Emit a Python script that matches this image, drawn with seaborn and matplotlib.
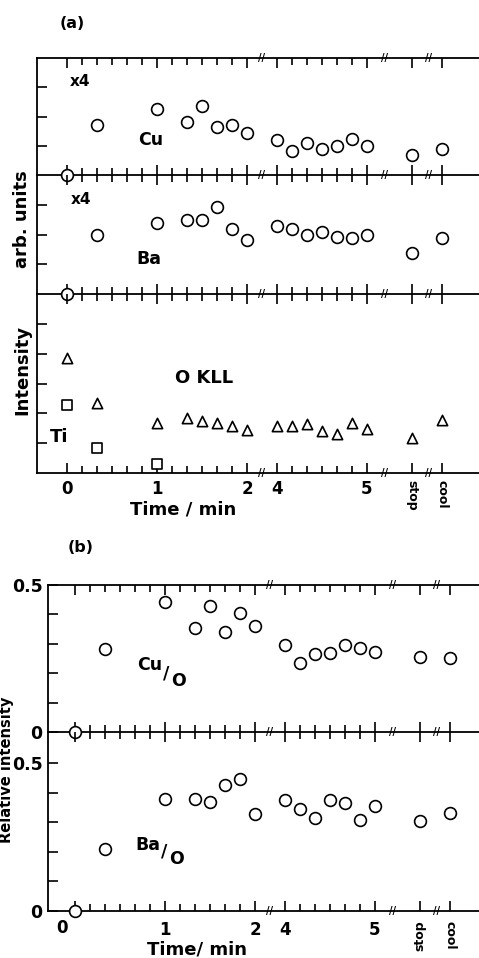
import numpy as np
import matplotlib
matplotlib.use("Agg")
import matplotlib.pyplot as plt
import matplotlib.transforms as mtransforms
import seaborn as sns

# ---------------- data ----------------
# sputtering time in minutes; "stop" and "cool" sit at nominal times 5.5 and 5.83
times = [0, 1/3, 1, 4/3, 3/2, 5/3, 11/6, 2, 4, 25/6, 13/3, 9/2, 14/3, 29/6, 5, 5.5, 5.83]
cu_x4 = [0, 1.70, 2.24, 1.82, 2.35, 1.63, 1.70, 1.42, 1.19, 0.82, 1.11, 0.89, 1.00, 1.23, 0.99, 0.70, 0.89]
ba_x4 = [0, 1.98, 2.39, 2.48, 2.50, 2.91, 2.20, 1.81, 2.28, 2.20, 2.00, 2.09, 1.91, 1.89, 2.00, 1.39, 1.89]
o_kll = [3.86, 2.33, 1.68, 1.85, 1.74, 1.69, 1.58, 1.43, 1.57, 1.57, 1.64, 1.41, 1.30, 1.66, 1.46, 1.18, 1.77]
ti_times = [0, 1/3, 1]
ti = [2.27, 0.84, 0.31]
cu_over_o = [0, 0.282, 0.441, 0.353, 0.429, 0.341, 0.404, 0.361, 0.296, 0.236, 0.265, 0.268, 0.296, 0.285, 0.273, 0.256, 0.253]
ba_over_o = [0, 0.211, 0.377, 0.378, 0.367, 0.427, 0.445, 0.329, 0.376, 0.346, 0.315, 0.376, 0.366, 0.306, 0.354, 0.303, 0.331]

tick_times = [0, 1, 2, 4, 5, 5.5, 5.83]
tick_labels_a = ["0", "1", "2", "4", "5", "stop", "cool"]
tick_labels_b = ["", "1", "2", "4", "5", "stop", "cool"]
minor_times = [i / 6 for i in range(13)] + [4 + i / 6 for i in range(7)]
break_times = [3.0, 5.2, 5.68]

# ---------------- style ----------------
sns.set_style("ticks")
plt.rcParams["font.family"] = ["DejaVu Sans"]
plt.rcParams["font.weight"] = "bold"
for key in ("text.color", "axes.labelcolor", "xtick.color", "ytick.color", "axes.edgecolor"):
    plt.rcParams[key] = "black"

W, H = 479, 958
fig = plt.figure(figsize=(W / 100, H / 100), dpi=100)

# broken time axis: 2 -> 4 min compressed
BRK_T = [-2, 2, 4, 8]
BRK_P = [-2, 2, 2 + 1 / 3, 6 + 1 / 3]


def fwd(t):
    return np.interp(np.asarray(t, float), BRK_T, BRK_P)


def inv(p):
    return np.interp(np.asarray(p, float), BRK_P, BRK_T)


def add_ax(x0, y0, y1):
    return fig.add_axes([x0 / W, 1 - y1 / H, (W - x0) / W, (y1 - y0) / H])


def setup(ax, xlim, ylim, yticks):
    ax.set_xscale("function", functions=(fwd, inv))
    ax.set_xlim(*xlim)
    ax.set_ylim(*ylim)
    ax.set_xticks(tick_times)
    ax.set_xticks(minor_times, minor=True)
    ax.tick_params(axis="x", which="both", direction="in", top=True, bottom=True,
                   labelbottom=False, width=1.2, color="black")
    ax.tick_params(axis="x", which="major", length=7)
    ax.tick_params(axis="x", which="minor", length=5)
    ax.set_yticks(yticks)
    ax.tick_params(axis="y", direction="in", left=True, right=False, length=7,
                   width=1.2, labelleft=False, color="black")
    ax.spines["right"].set_visible(False)
    for s in ax.spines.values():
        s.set_linewidth(1.3)
        s.set_color("black")
    ax.set_facecolor("none")


def breaks(ax, sides):
    tr = mtransforms.blended_transform_factory(ax.transData, ax.transAxes)
    for side in sides:
        yy = 1 if side == "top" else 0
        for t in break_times:
            ax.text(t, yy, "//", transform=tr, ha="center", va="center", fontsize=7,
                    fontweight="bold", color="black", clip_on=False, zorder=5)


def scat(ax, x, y, marker, s):
    sns.scatterplot(x=x, y=y, ax=ax, marker=marker, s=s, color="white",
                    edgecolor="black", linewidth=1.2, clip_on=False, zorder=4, legend=False)
    ax.set_xlabel("")
    ax.set_ylabel("")


def ftext(x, y, s, **kw):
    kw.setdefault("ha", "center")
    kw.setdefault("va", "center")
    kw.setdefault("fontweight", "bold")
    kw.setdefault("color", "black")
    fig.text(x / W, 1 - y / H, s, **kw)


# ---------------- panel (a) ----------------
xlim_a = (-1 / 3, inv(4.578))
ax_cu = add_ax(37, 58, 175)
ax_ba = add_ax(37, 175, 294)
ax_o = add_ax(37, 294, 473)

setup(ax_cu, xlim_a, (0, 4), [1, 2, 3])
setup(ax_ba, xlim_a, (0, 4), [1, 2, 3])
setup(ax_o, xlim_a, (0, 6), [1, 2, 3, 4, 5])
ax_ba.spines["top"].set_visible(False)
ax_o.spines["top"].set_visible(False)

scat(ax_cu, times, cu_x4, "o", 72)
scat(ax_ba, times, ba_x4, "o", 72)
scat(ax_o, times, o_kll, "^", 55)
scat(ax_o, ti_times, ti, "s", 45)

breaks(ax_cu, ["top", "bottom"])
breaks(ax_ba, ["bottom"])
breaks(ax_o, ["bottom"])

ax_o.tick_params(axis="x", which="major", labelbottom=True, labelsize=12, pad=5)
ax_o.set_xticklabels(tick_labels_a)
for lbl in ax_o.get_xticklabels():
    if lbl.get_text() in ("stop", "cool"):
        lbl.set_rotation(270)
        lbl.set_fontsize(9)
        lbl.set_va("top")
    lbl.set_fontweight("bold")
    lbl.set_color("black")

ftext(72, 23, "(a)", fontsize=11.5)
ftext(80, 82, "x4", fontsize=11)
ftext(151, 140, "Cu", fontsize=12.5)
ftext(81, 200, "x4", fontsize=11)
ftext(149, 259, "Ba", fontsize=12.5)
ftext(204, 378, "O KLL", fontsize=13)
ftext(59, 437, "Ti", fontsize=13)
ftext(22, 219, "arb. units", rotation=90, fontsize=13)
ftext(22, 370, "Intensity", rotation=90, fontsize=13)
ftext(183, 510, "Time / min", fontsize=13)

# ---------------- panel (b) ----------------
xlim_b = (-0.3, inv(4.489))
ax_cuo = add_ax(48, 585, 732)
ax_bao = add_ax(48, 732, 911)

setup(ax_cuo, xlim_b, (0, 0.5), [0, 0.1, 0.2, 0.3, 0.4, 0.5])
setup(ax_bao, xlim_b, (0, 0.5 * 179 / 148), [0, 0.1, 0.2, 0.3, 0.4, 0.5])
ax_bao.spines["top"].set_visible(False)
for ax in (ax_cuo, ax_bao):
    ax.tick_params(axis="y", labelleft=True, labelsize=12.5, pad=4)
    ax.set_yticklabels(["0", "", "", "", "", "0.5"])
    for lbl in ax.get_yticklabels():
        lbl.set_fontweight("bold")
        lbl.set_color("black")

scat(ax_cuo, times, cu_over_o, "o", 72)
scat(ax_bao, times, ba_over_o, "o", 72)

breaks(ax_cuo, ["top", "bottom"])
breaks(ax_bao, ["bottom"])

ax_bao.tick_params(axis="x", which="major", labelbottom=True, labelsize=12, pad=7)
ax_bao.set_xticklabels(tick_labels_b)
for lbl in ax_bao.get_xticklabels():
    if lbl.get_text() == "stop":
        lbl.set_rotation(90)
    if lbl.get_text() == "cool":
        lbl.set_rotation(270)
    if lbl.get_text() in ("stop", "cool"):
        lbl.set_fontsize(9)
        lbl.set_va("top")
    lbl.set_fontweight("bold")
    lbl.set_color("black")

ftext(62, 928, "0", fontsize=12)
ftext(81, 547, "(b)", fontsize=11.5)
ftext(150, 665, "Cu", fontsize=12.5)
ftext(166, 674, "/", fontsize=12.5)
ftext(179, 681, "O", fontsize=12.5)
ftext(148, 845, "Ba", fontsize=12.5)
ftext(164, 852, "/", fontsize=12.5)
ftext(177, 859, "O", fontsize=12.5)
ftext(7, 770, "Relative intensity", rotation=90, fontsize=10.5)
ftext(197, 950, "Time/ min", fontsize=13)

fig.savefig("out.png", dpi=100, facecolor="white")
